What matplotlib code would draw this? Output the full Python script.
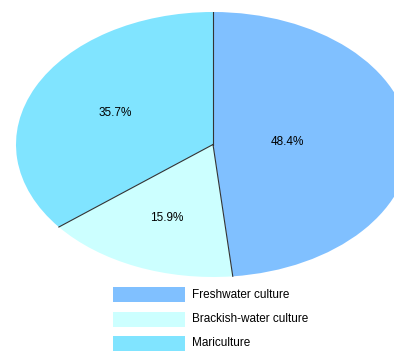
import matplotlib
matplotlib.use("Agg")
import matplotlib.pyplot as plt
from matplotlib.patches import Rectangle
import numpy as np

labels = ["Freshwater culture", "Brackish-water culture", "Mariculture"]
shares = [48.4, 15.9, 35.7]
colors = ["#80C0FF", "#CCFFFF", "#80E4FF"]
label_radius = [0.38, 0.6, 0.55]

plt.rcParams["font.family"] = ["Liberation Sans", "DejaVu Sans"]

W, H = 394, 352
fig = plt.figure(figsize=(W / 100, H / 100), dpi=100)
# the pie axes runs past the right edge, so the ellipse is cut off there
ax = fig.add_axes([16 / W, 75 / H, 394 / W, 265 / H])

wedges, _ = ax.pie(shares, colors=colors, startangle=90, counterclock=False,
                   wedgeprops=dict(linewidth=0))
ax.set_aspect("auto")
ax.set_xlim(-1, 1)
ax.set_ylim(-1, 1)

# radial dividers between slices
bounds = 90 - 360 * np.cumsum([0] + shares[:-1]) / 100.0
for a in bounds:
    t = np.deg2rad(a)
    ax.plot([0, np.cos(t)], [0, np.sin(t)], color="#333333", linewidth=0.8)

# percentage labels
start = 90.0
for share, r in zip(shares, label_radius):
    mid = np.deg2rad(start - 360 * share / 200.0)
    ax.text(r * np.cos(mid), r * np.sin(mid), "%.1f%%" % share,
            ha="center", va="center", fontsize=8.5, color="black")
    start -= 360 * share / 100.0

# legend below the pie, drawn by hand: swatch boxes with labels
for i, (lab, col) in enumerate(zip(labels, colors)):
    top = 287 + i * 24.5
    fig.add_artist(Rectangle((113 / W, 1 - (top + 15) / H), 72 / W, 15 / H,
                             transform=fig.transFigure, facecolor=col,
                             edgecolor="none"))
    fig.text(192 / W, 1 - (top + 7.5) / H, lab, fontsize=8.5,
             ha="left", va="center", color="black")

fig.savefig("out.png", dpi=100)
